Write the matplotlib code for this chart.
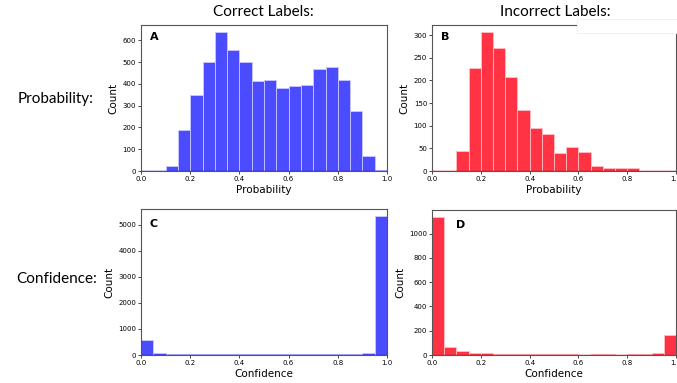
import numpy as np
import matplotlib
matplotlib.use("Agg")
from matplotlib import pyplot as plt
from matplotlib.patches import Rectangle

# bin edges shared by all four histograms
bin_edges = np.round(np.arange(0, 1.0001, 0.05), 2)

# counts per bin
prob_correct = [0, 0, 23, 188, 351, 498, 638, 555, 500, 411,
                418, 383, 388, 394, 466, 475, 418, 277, 69, 5]
prob_incorrect = [0, 0, 45, 227, 307, 272, 207, 134, 96, 82,
                  40, 53, 42, 12, 7, 7, 6, 1, 0, 0]
conf_correct = [580, 90, 51, 40, 35, 25, 25, 25, 25, 25,
                25, 35, 25, 25, 25, 25, 30, 30, 65, 5335]
conf_incorrect = [1137, 63, 36, 19, 19, 11, 11, 11, 6, 6,
                  6, 6, 3, 6, 6, 3, 6, 6, 13, 165]

col_titles = ["Correct Labels:", "Incorrect Labels:"]
row_titles = ["Probability:", "Confidence:"]
panel_letters = ["A", "B", "C", "D"]

BLUE = "#4b4bff"
RED = "#ff3344"

W, H = 677, 383
fig = plt.figure(figsize=(W / 100, H / 100), dpi=100)


def px_axes(left, top, right, bottom):
    return fig.add_axes([left / W, 1 - bottom / H, (right - left) / W, (bottom - top) / H])


axA = px_axes(141, 25, 387, 171)
axB = px_axes(432, 25, 676, 171)
axC = px_axes(141, 209, 387, 355)
axD = px_axes(432, 210, 676, 355)

panels = [
    (axA, prob_correct, BLUE, "Probability", (0.035, 0.92)),
    (axB, prob_incorrect, RED, "Probability", (0.035, 0.92)),
    (axC, conf_correct, BLUE, "Confidence", (0.035, 0.90)),
    (axD, conf_incorrect, RED, "Confidence", (0.10, 0.90)),
]

for (ax, counts, color, xlabel, pos), letter in zip(panels, panel_letters):
    ax.bar(bin_edges[:-1], counts, width=0.05, align="edge", color=color,
           edgecolor="#c8c8ff" if color == BLUE else "#ffc0c4", linewidth=0.6)
    # the empty bins still leave a thin coloured line on the baseline
    ax.axhline(0, color="#2a2acc" if color == BLUE else "#cc1f2e", linewidth=1.0, zorder=3)
    ax.set_xlim(0, 1)
    ax.set_ylim(0, max(counts) * 1.05)
    ax.set_xticks([0, 0.2, 0.4, 0.6, 0.8, 1.0])
    ax.tick_params(labelsize=5, length=2, width=0.5, pad=1.5)
    for s in ax.spines.values():
        s.set_linewidth(0.8)
        s.set_color("#555555")
    ax.set_xlabel(xlabel, fontsize=7.5, labelpad=2)
    ax.set_ylabel("Count", fontsize=7.5, labelpad=3)
    ax.text(pos[0], pos[1], letter, transform=ax.transAxes, fontsize=8,
            fontweight="bold", va="center", ha="left")

axB.set_yticks([0, 50, 100, 150, 200, 250, 300])
axD.set_yticks([0, 200, 400, 600, 800, 1000])

fig.text(263 / W, 1 - 12 / H, col_titles[0], family="Lato", fontsize=11, ha="center", va="center")
fig.text(555 / W, 1 - 12 / H, col_titles[1], family="Lato", fontsize=11, ha="center", va="center")
fig.text(56 / W, 1 - 99 / H, row_titles[0], family="Lato", fontsize=11, ha="center", va="center")
fig.text(57 / W, 1 - 279 / H, row_titles[1], family="Lato", fontsize=11, ha="center", va="center")

# white box pasted over the top right of panel B
fig.patches.append(Rectangle((577 / W, 1 - 33 / H), 110 / W, 14 / H,
                             transform=fig.transFigure, facecolor="white",
                             edgecolor="#eeeeee", linewidth=0.6, zorder=5))

fig.savefig("out.png", dpi=100)
